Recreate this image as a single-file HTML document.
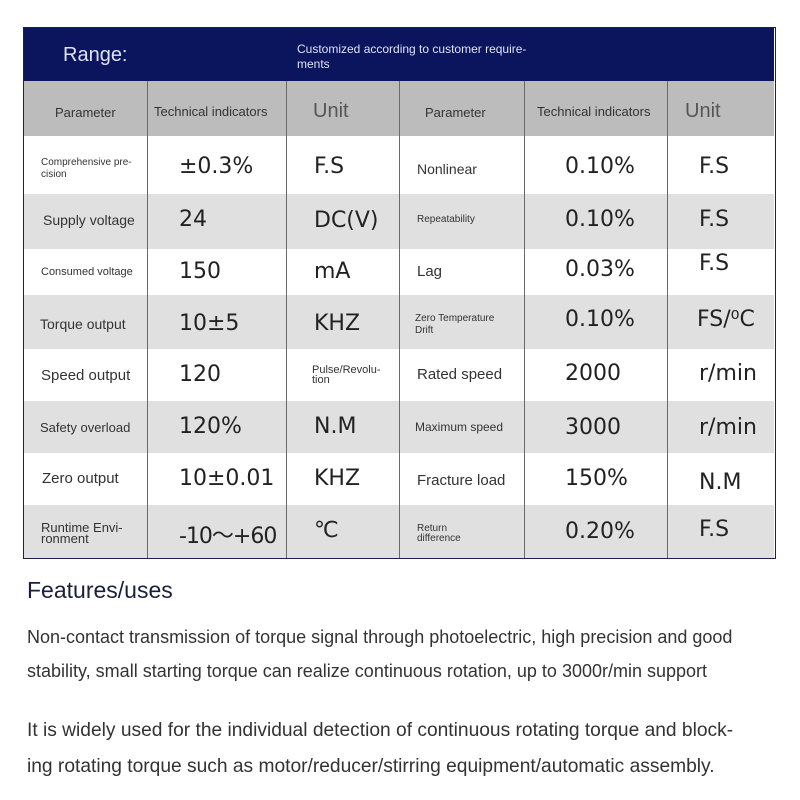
<!DOCTYPE html>
<html><head><meta charset="utf-8"><style>
body{margin:0;width:800px;height:800px;background:#fff;position:relative;font-family:"Liberation Sans","Noto Sans CJK SC",sans-serif;overflow:hidden}
.a{position:absolute}
.t{position:absolute;white-space:nowrap;color:#333}
.v{font-family:"DejaVu Sans","Liberation Sans",sans-serif;font-size:22px;color:#222}
.vl{position:absolute;top:81px;height:477px;width:1px;background:#6a6a6a}
</style></head><body>
<div class="a" style="left:24px;top:28px;width:750px;height:53px;background:#0b155e"></div>
<div class="a" style="left:24px;top:81px;width:750px;height:55px;background:#bcbcbc"></div>
<div class="a" style="left:24px;top:194px;width:750px;height:55px;background:#e0e0e0"></div>
<div class="a" style="left:24px;top:295px;width:750px;height:54px;background:#e0e0e0"></div>
<div class="a" style="left:24px;top:401px;width:750px;height:52px;background:#e0e0e0"></div>
<div class="a" style="left:24px;top:505px;width:750px;height:53px;background:#e0e0e0"></div>
<div class="a" style="left:23px;top:27px;width:751px;height:530px;border:1px solid #1a2050"></div>
<div class="vl" style="left:147px"></div><div class="vl" style="left:286px"></div><div class="vl" style="left:399px"></div><div class="vl" style="left:524px"></div><div class="vl" style="left:667px"></div>

<div class="t" style="left:63px;top:44px;font-size:20px;color:#dfe3f5">Range:</div>
<div class="t" style="left:297px;top:42px;font-size:12px;line-height:15px;color:#dfe3f5">Customized according to customer require-<br>ments</div>

<div class="t" style="left:55px;top:105px;font-size:13px">Parameter</div>
<div class="t" style="left:154px;top:104px;font-size:13px">Technical indicators</div>
<div class="t" style="left:313px;top:100px;font-size:20px;color:#555">Unit</div>
<div class="t" style="left:425px;top:105px;font-size:13px">Parameter</div>
<div class="t" style="left:537px;top:104px;font-size:13px">Technical indicators</div>
<div class="t" style="left:685px;top:100px;font-size:20px;color:#555">Unit</div>

<div class="t" style="left:41px;top:157px;font-size:10px;line-height:12px">Comprehensive pre-<br>cision</div>
<div class="t v" style="left:179px;top:154px">±0.3%</div>
<div class="t v" style="left:314px;top:154px">F.S</div>
<div class="t" style="left:417px;top:161px;font-size:14px">Nonlinear</div>
<div class="t v" style="left:565px;top:154px">0.10%</div>
<div class="t v" style="left:699px;top:154px">F.S</div>

<div class="t" style="left:43px;top:212px;font-size:14px">Supply voltage</div>
<div class="t v" style="left:179px;top:207px">24</div>
<div class="t v" style="left:314px;top:208px">DC(V)</div>
<div class="t" style="left:417px;top:214px;font-size:10px">Repeatability</div>
<div class="t v" style="left:565px;top:207px">0.10%</div>
<div class="t v" style="left:699px;top:207px">F.S</div>

<div class="t" style="left:41px;top:266px;font-size:11px">Consumed voltage</div>
<div class="t v" style="left:179px;top:259px">150</div>
<div class="t v" style="left:314px;top:259px">mA</div>
<div class="t" style="left:417px;top:263px;font-size:15px">Lag</div>
<div class="t v" style="left:565px;top:257px">0.03%</div>
<div class="t v" style="left:699px;top:251px">F.S</div>

<div class="t" style="left:40px;top:316px;font-size:14px">Torque output</div>
<div class="t v" style="left:179px;top:311px">10±5</div>
<div class="t v" style="left:314px;top:311px">KHZ</div>
<div class="t" style="left:415px;top:313px;font-size:10px;line-height:12px">Zero Temperature<br>Drift</div>
<div class="t v" style="left:565px;top:307px">0.10%</div>
<div class="t v" style="left:697px;top:307px">FS/⁰C</div>

<div class="t" style="left:41px;top:367px;font-size:15px">Speed output</div>
<div class="t v" style="left:179px;top:362px">120</div>
<div class="t" style="left:312px;top:365px;font-size:11px;line-height:10px">Pulse/Revolu-<br>tion</div>
<div class="t" style="left:417px;top:366px;font-size:15px">Rated speed</div>
<div class="t v" style="left:565px;top:361px">2000</div>
<div class="t v" style="left:699px;top:361px">r/min</div>

<div class="t" style="left:40px;top:420px;font-size:13px">Safety overload</div>
<div class="t v" style="left:179px;top:414px">120%</div>
<div class="t v" style="left:314px;top:414px">N.M</div>
<div class="t" style="left:415px;top:420px;font-size:12px">Maximum speed</div>
<div class="t v" style="left:565px;top:415px">3000</div>
<div class="t v" style="left:699px;top:415px">r/min</div>

<div class="t" style="left:42px;top:470px;font-size:15px">Zero output</div>
<div class="t v" style="left:179px;top:466px">10±0.01</div>
<div class="t v" style="left:314px;top:466px">KHZ</div>
<div class="t" style="left:417px;top:472px;font-size:15px">Fracture load</div>
<div class="t v" style="left:565px;top:466px">150%</div>
<div class="t v" style="left:699px;top:470px">N.M</div>

<div class="t" style="left:41px;top:522px;font-size:13px;line-height:11px">Runtime Envi-<br>ronment</div>
<div class="t v" style="left:179px;top:518px;letter-spacing:-1px">-10～+60</div>
<div class="t v" style="left:314px;top:518px">℃</div>
<div class="t" style="left:417px;top:524px;font-size:10px;line-height:10px">Return<br>difference</div>
<div class="t v" style="left:565px;top:519px">0.20%</div>
<div class="t v" style="left:699px;top:517px">F.S</div>

<div class="t" style="left:27px;top:577px;font-size:23px;color:#1a1f3a">Features/uses</div>
<div class="t" style="left:27px;top:620px;font-size:18px;line-height:34px;color:#333">Non-contact transmission of torque signal through photoelectric, high precision and good<br>stability, small starting torque can realize continuous rotation, up to 3000r/min support</div>
<div class="t" style="left:27px;top:713px;font-size:19.2px;line-height:36px;color:#333">It is widely used for the individual detection of continuous rotating torque and block-<br>ing rotating torque such as motor/reducer/stirring equipment/automatic assembly.</div>
</body></html>
